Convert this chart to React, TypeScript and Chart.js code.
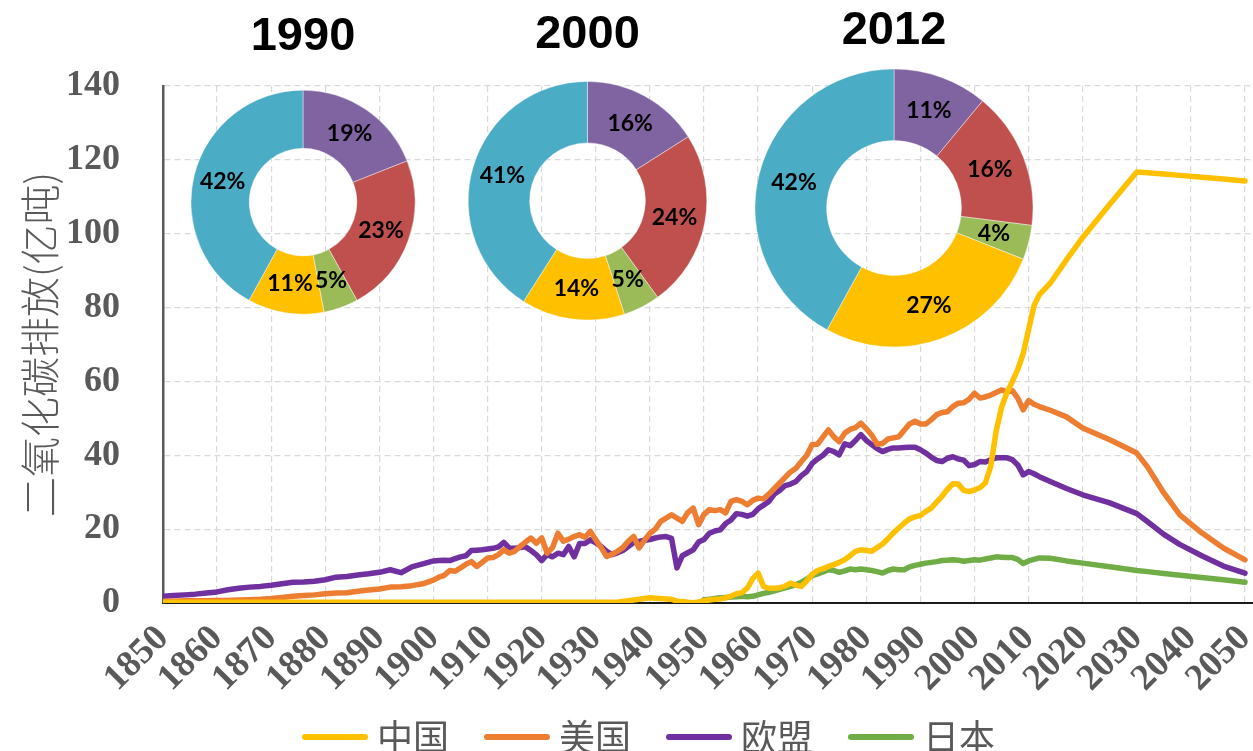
import React, { useEffect, useRef } from 'react';
import { Chart, registerables } from 'chart.js';

Chart.register(...registerables);

// ---------- line chart data ----------
const years = [
  1850, 1852, 1854, 1856, 1858, 1860, 1862, 1864, 1866, 1868,
  1870, 1872, 1874, 1876, 1878, 1880, 1882, 1884, 1886, 1888,
  1890, 1892, 1894, 1896, 1898, 1900,
  1901, 1902, 1903, 1904, 1905, 1906, 1907, 1908, 1909, 1910,
  1911, 1912, 1913, 1914, 1915, 1916, 1917, 1918, 1919, 1920,
  1921, 1922, 1923, 1924, 1925, 1926, 1927, 1928, 1929, 1930,
  1931, 1932, 1933, 1934, 1935, 1936, 1937, 1938, 1939, 1940,
  1941, 1942, 1943, 1944, 1945, 1946, 1947, 1948, 1949, 1950,
  1951, 1952, 1953, 1954, 1955, 1956, 1957, 1958, 1959, 1960,
  1961, 1962, 1963, 1964, 1965, 1966, 1967, 1968, 1969, 1970,
  1971, 1972, 1973, 1974, 1975, 1976, 1977, 1978, 1979, 1980,
  1981, 1982, 1983, 1984, 1985, 1986, 1987, 1988, 1989, 1990,
  1991, 1992, 1993, 1994, 1995, 1996, 1997, 1998, 1999, 2000,
  2001, 2002, 2003, 2004, 2005, 2006, 2007, 2008, 2009, 2010,
  2011, 2012,
  2014, 2017, 2020, 2025, 2030, 2032, 2035, 2038, 2042, 2046, 2050,
];

const chinaValues = [
  0.2, 0.2, 0.2, 0.2, 0.2, 0.2, 0.2, 0.2, 0.2, 0.2,
  0.2, 0.2, 0.2, 0.2, 0.2, 0.2, 0.2, 0.2, 0.2, 0.2,
  0.2, 0.2, 0.2, 0.2, 0.2, 0.2,
  0.2, 0.2, 0.2, 0.2, 0.2, 0.2, 0.2, 0.2, 0.2, 0.2,
  0.2, 0.2, 0.2, 0.2, 0.2, 0.2, 0.2, 0.2, 0.2, 0.2,
  0.2, 0.2, 0.2, 0.2, 0.2, 0.2, 0.2, 0.2, 0.2, 0.2,
  0.2, 0.2, 0.2, 0.2, 0.4, 0.6, 0.8, 1.0, 1.2, 1.4,
  1.3, 1.2, 1.1, 1.0, 0.5, 0.4, 0.2, 0.1, 0.3, 0.6,
  0.8, 1.0, 1.1, 1.4, 1.9, 2.5, 2.8, 4.0, 6.6, 8.1,
  4.5, 4.0, 4.0, 4.1, 4.6, 5.4, 4.8, 4.5, 6.0, 7.8,
  8.8, 9.3, 9.9, 10.4, 11.0, 11.7, 12.8, 14.0, 14.4, 14.2,
  14.0, 15.0, 16.0, 17.4, 19.0, 20.3, 21.6, 22.8, 23.3, 23.7,
  24.8, 25.7, 27.3, 28.9, 30.8, 32.3, 32.2, 30.5, 30.2, 30.6,
  31.2, 32.5, 37.0, 46.5, 53.0, 57.0, 60.0, 63.3, 67.5, 74.0,
  80.5, 83.5,
  86.6, 92.9, 99.0, 108.0, 116.7, 116.5, 116.2, 115.8, 115.3, 114.8, 114.3,
];

const usaValues = [
  0.5, 0.5, 0.6, 0.6, 0.6, 0.7, 0.7, 0.8, 0.9, 1.0,
  1.2, 1.5, 1.8, 2.0, 2.2, 2.5, 2.7, 2.8, 3.2, 3.5,
  3.8, 4.3, 4.4, 4.7, 5.2, 6.2,
  7.0, 7.5, 8.8, 8.6, 9.5, 10.5, 11.2, 9.9, 11.0, 12.2,
  12.3, 13.1, 14.4, 13.5, 14.0, 15.3, 16.5, 17.6, 16.2, 17.6,
  13.5, 15.0, 18.9, 16.7, 17.3, 18.0, 18.5, 17.8, 19.4, 17.1,
  15.0, 12.6, 13.2, 14.0, 15.0, 16.7, 18.0, 14.9, 17.0, 18.9,
  20.0, 22.1, 23.0, 23.9, 23.0, 22.1, 24.5, 25.7, 21.2, 24.0,
  25.3, 25.0, 25.3, 24.4, 27.5, 28.0, 27.5, 26.6, 27.8, 28.4,
  28.2, 29.5, 31.0, 32.5, 34.0, 35.5, 36.5, 38.3, 40.0, 42.9,
  43.0, 45.0, 46.9, 45.0, 43.7, 46.0, 47.0, 47.5, 48.7, 47.2,
  45.5, 43.0, 43.2, 44.4, 44.7, 45.0, 46.8, 48.5, 49.2, 48.5,
  48.5, 49.6, 51.0, 51.6, 51.8, 53.2, 54.1, 54.2, 55.2, 56.8,
  55.5, 55.8, 56.3, 57.0, 57.7, 57.2, 57.5, 55.5, 52.3, 54.8,
  53.8, 53.2,
  52.2, 50.4, 47.4, 44.2, 40.6, 36.8, 29.8, 23.8, 19.0, 14.9, 11.7,
];

const euValues = [
  1.8, 2.0, 2.2, 2.4, 2.7, 3.0, 3.6, 4.0, 4.3, 4.5,
  4.8, 5.2, 5.6, 5.7, 5.9, 6.3, 7.0, 7.2, 7.6, 7.9,
  8.3, 9.0, 8.2, 9.8, 10.6, 11.4,
  11.5, 11.6, 11.5, 12.0, 12.5, 12.8, 14.2, 14.3, 14.4, 14.6,
  14.8, 15.2, 16.4, 14.9, 14.8, 15.0, 15.2, 14.2, 13.1, 11.5,
  13.1, 12.5, 13.5, 13.1, 15.3, 12.5, 16.1, 16.1, 17.1, 16.3,
  15.3, 14.0, 13.1, 13.6, 14.2, 15.3, 16.4, 16.7, 17.0, 17.2,
  17.6, 17.9, 18.0, 17.5, 9.5, 12.8, 13.6, 14.4, 16.5, 17.2,
  18.9, 19.5, 19.8, 21.5, 22.5, 24.2, 24.0, 23.5, 24.0, 25.5,
  26.5, 27.5, 29.5, 30.5, 31.8, 32.2, 32.9, 34.5, 35.6, 37.8,
  39.0, 40.0, 41.5, 41.0, 40.1, 43.1, 42.6, 44.0, 45.6, 44.0,
  42.9, 41.8, 41.0, 41.6, 42.0, 42.0, 42.1, 42.2, 42.2, 41.5,
  40.6, 39.5, 38.6, 38.3, 39.2, 39.6, 39.0, 38.7, 37.2, 37.5,
  38.3, 38.2, 38.8, 39.3, 39.3, 39.3, 38.8, 37.4, 34.7, 35.6,
  35.0, 34.2,
  32.9, 31.0, 29.3, 27.1, 24.2, 22.0, 18.6, 15.8, 12.8, 10.0, 8.1,
];

// Japan's series starts in 1950
const japanStartYear = 1950;
const japanValues = [
  0.9,
  1.0, 1.2, 1.4, 1.5, 1.6, 1.7, 1.8, 1.7, 1.8, 2.2,
  2.6, 2.9, 3.3, 3.7, 4.1, 4.5, 5.0, 5.6, 6.5, 7.4,
  7.9, 8.4, 9.0, 8.8, 8.3, 8.7, 9.2, 9.0, 9.2, 9.0,
  8.8, 8.5, 8.1, 8.8, 9.2, 9.0, 9.0, 9.8, 10.2, 10.5,
  10.8, 11.0, 11.2, 11.5, 11.6, 11.7, 11.6, 11.3, 11.5, 11.7,
  11.6, 11.9, 12.2, 12.5, 12.4, 12.3, 12.3, 11.8, 10.7, 11.4,
  11.8, 12.2,
  12.1, 11.4, 10.8, 9.8, 8.8, 8.5, 8.0, 7.5, 6.9, 6.3, 5.6,
];

const seriesNames = ['中国', '美国', '欧盟', '日本'];
const seriesColors = ['#FFC000', '#ED7D31', '#7030A0', '#70AD47'];

const yTicksMin = 0;
const yTicksMax = 140;
const yTickStep = 20;
const xTickStep = 10;
const yAxisTitle = '二氧化碳排放(亿吨)';

// ---------- doughnut data ----------
const donutLabels = ['欧盟', '美国', '日本', '中国', '其他'];
const donutColors = ['#8064A2', '#C0504D', '#9BBB59', '#FFC000', '#4BACC6'];
const share1990 = [19, 23, 5, 11, 42];
const share2000 = [16, 24, 5, 14, 41];
const share2012 = [11, 16, 4, 27, 42];

// ---------- layout ----------
const PAGE_W = 1253;
const PAGE_H = 751;
const MAIN_W = 1272;
const MAIN_H = 765;
const AREA_LEFT = 163;
const AREA_TOP = 86;
const X_AXIS_H = 106;
const X_PX_2050 = 1245;
const X_MAX = 1850 + ((MAIN_W - AREA_LEFT) * 200) / (X_PX_2050 - AREA_LEFT);

const donutSpecs = [
  { title: '1990', data: share1990, cx: 302.7, cy: 202.3, r: 112, inner: 55.5, padTop: 9.3, padBottom: 20.6 },
  { title: '2000', data: share2000, cx: 587.7, cy: 200.8, r: 119.3, inner: 59.6, padTop: 6.8, padBottom: 14.3 },
  { title: '2012', data: share2012, cx: 894.2, cy: 208, r: 139, inner: 69.2, padTop: 2.8, padBottom: 5.8 },
];

function legendLine(color: string) {
  const c = document.createElement('canvas');
  c.width = 100;
  c.height = 10;
  const g = c.getContext('2d')!;
  g.strokeStyle = color;
  g.lineWidth = 6;
  g.lineCap = 'round';
  g.beginPath();
  g.moveTo(37, 5);
  g.lineTo(97, 5);
  g.stroke();
  return c;
}

const pctPlugin = {
  id: 'pctLabels',
  afterDatasetsDraw(chart: any) {
    const ctx = chart.ctx;
    const meta = chart.getDatasetMeta(0);
    const vals = chart.data.datasets[0].data;
    ctx.save();
    ctx.font = 'bold 23px Lato, "Noto Sans", sans-serif';
    ctx.fillStyle = '#000';
    ctx.textAlign = 'center';
    ctx.textBaseline = 'middle';
    meta.data.forEach((arc: any, i: number) => {
      const p = arc.tooltipPosition(false);
      ctx.fillText(vals[i] + '%', p.x, p.y);
    });
    ctx.restore();
  },
};

function Donut({ spec }: { spec: any }) {
  const ref = useRef<HTMLCanvasElement>(null);
  const w = Math.round(spec.r * 2 + 8);
  const h = Math.round(spec.cy + spec.r + 4);
  useEffect(() => {
    const chart = new Chart(ref.current!, {
      type: 'doughnut',
      data: {
        labels: donutLabels,
        datasets: [
          {
            data: spec.data,
            backgroundColor: donutColors,
            borderColor: 'rgba(255,255,255,0.7)',
            borderWidth: 0.6,
          },
        ],
      },
      options: {
        animation: false,
        responsive: false,
        events: [],
        radius: spec.r,
        cutout: spec.inner,
        layout: { padding: 0 },
        plugins: {
          legend: { display: false },
          tooltip: { enabled: false },
          title: {
            display: true,
            text: spec.title,
            color: '#000',
            font: { family: '"Liberation Sans Narrow", "Liberation Sans", sans-serif', size: 47, weight: 'bold', lineHeight: 1.2 },
            padding: { top: spec.padTop, bottom: spec.padBottom },
          },
        },
      } as any,
      plugins: [pctPlugin],
    });
    return () => chart.destroy();
  }, []);
  return (
    <canvas
      ref={ref}
      width={w}
      height={h}
      style={{ position: 'absolute', left: Math.round(spec.cx - w / 2), top: 0, width: w, height: h }}
    />
  );
}

function MainChart() {
  const ref = useRef<HTMLCanvasElement>(null);
  useEffect(() => {
    const japanYears = years.slice(years.indexOf(japanStartYear));
    const all = [chinaValues, usaValues, euValues, japanValues];
    const xs = [years, years, years, japanYears];
    const datasets = all.map((vals, i) => ({
      label: seriesNames[i],
      data: vals.map((v, k) => ({ x: xs[i][k], y: v })),
      borderColor: seriesColors[i],
      backgroundColor: seriesColors[i],
      borderWidth: 5.5,
      pointRadius: 0,
      tension: 0,
      borderJoinStyle: 'round',
      borderCapStyle: 'round',
      fill: false,
    }));
    const chart = new Chart(ref.current!, {
      type: 'line',
      data: { datasets },
      options: {
        animation: false,
        responsive: false,
        events: [],
        layout: { padding: { top: AREA_TOP, left: 0, right: 0, bottom: 0 } },
        scales: {
          x: {
            type: 'linear',
            min: 1850,
            max: X_MAX,
            ticks: {
              stepSize: xTickStep,
              autoSkip: false,
              includeBounds: false,
              minRotation: 45,
              maxRotation: 45,
              padding: 14,
              color: '#595959',
              font: { family: '"Liberation Serif", serif', size: 37, weight: 'bold' },
              callback: (v: any) => String(v),
            },
            grid: { color: '#d9d9d9', lineWidth: 1.2, drawTicks: false },
            border: { display: true, color: '#1a1a1a', width: 2, dash: [6, 4] },
            afterFit: (s: any) => {
              s.height = X_AXIS_H;
              s.paddingRight = 0;
              s.paddingLeft = 0;
            },
          },
          y: {
            min: yTicksMin,
            max: yTicksMax,
            ticks: {
              stepSize: yTickStep,
              padding: 43,
              color: '#595959',
              font: { family: '"Liberation Serif", serif', size: 36, weight: 'bold' },
            },
            grid: { color: '#d9d9d9', lineWidth: 1.2, drawTicks: false },
            border: { display: true, color: '#595959', width: 2.5, dash: [6, 4] },
            title: {
              display: true,
              text: yAxisTitle,
              color: '#595959',
              font: { family: '"Noto Sans CJK SC", sans-serif', size: 40, weight: 300 },
              padding: { top: 16, bottom: 0 },
            },
            afterFit: (s: any) => {
              s.width = AREA_LEFT;
            },
          },
        },
        plugins: {
          tooltip: { enabled: false },
          legend: {
            position: 'bottom',
            align: 'center',
            labels: {
              usePointStyle: true,
              pointStyleWidth: 82,
              padding: 10,
              color: '#595959',
              font: { family: '"Noto Sans CJK SC", sans-serif', size: 36 },
              generateLabels: (c: any) =>
                c.data.datasets.map((ds: any, i: number) => ({
                  text: ds.label,
                  pointStyle: legendLine(ds.borderColor),
                  fillStyle: ds.borderColor,
                  strokeStyle: ds.borderColor,
                  fontColor: '#595959',
                  lineWidth: 0,
                  hidden: false,
                  datasetIndex: i,
                })),
            },
          },
        },
      } as any,
    });
    return () => chart.destroy();
  }, []);
  return (
    <canvas
      ref={ref}
      width={MAIN_W}
      height={MAIN_H}
      style={{ position: 'absolute', left: 0, top: 0, width: MAIN_W, height: MAIN_H }}
    />
  );
}

export default function App() {
  return (
    <div
      style={{
        position: 'fixed',
        left: 0,
        top: 0,
        width: PAGE_W,
        height: PAGE_H,
        overflow: 'hidden',
        background: '#fff',
      }}
    >
      <MainChart />
      {donutSpecs.map((s) => (
        <Donut key={s.title} spec={s} />
      ))}
    </div>
  );
}
